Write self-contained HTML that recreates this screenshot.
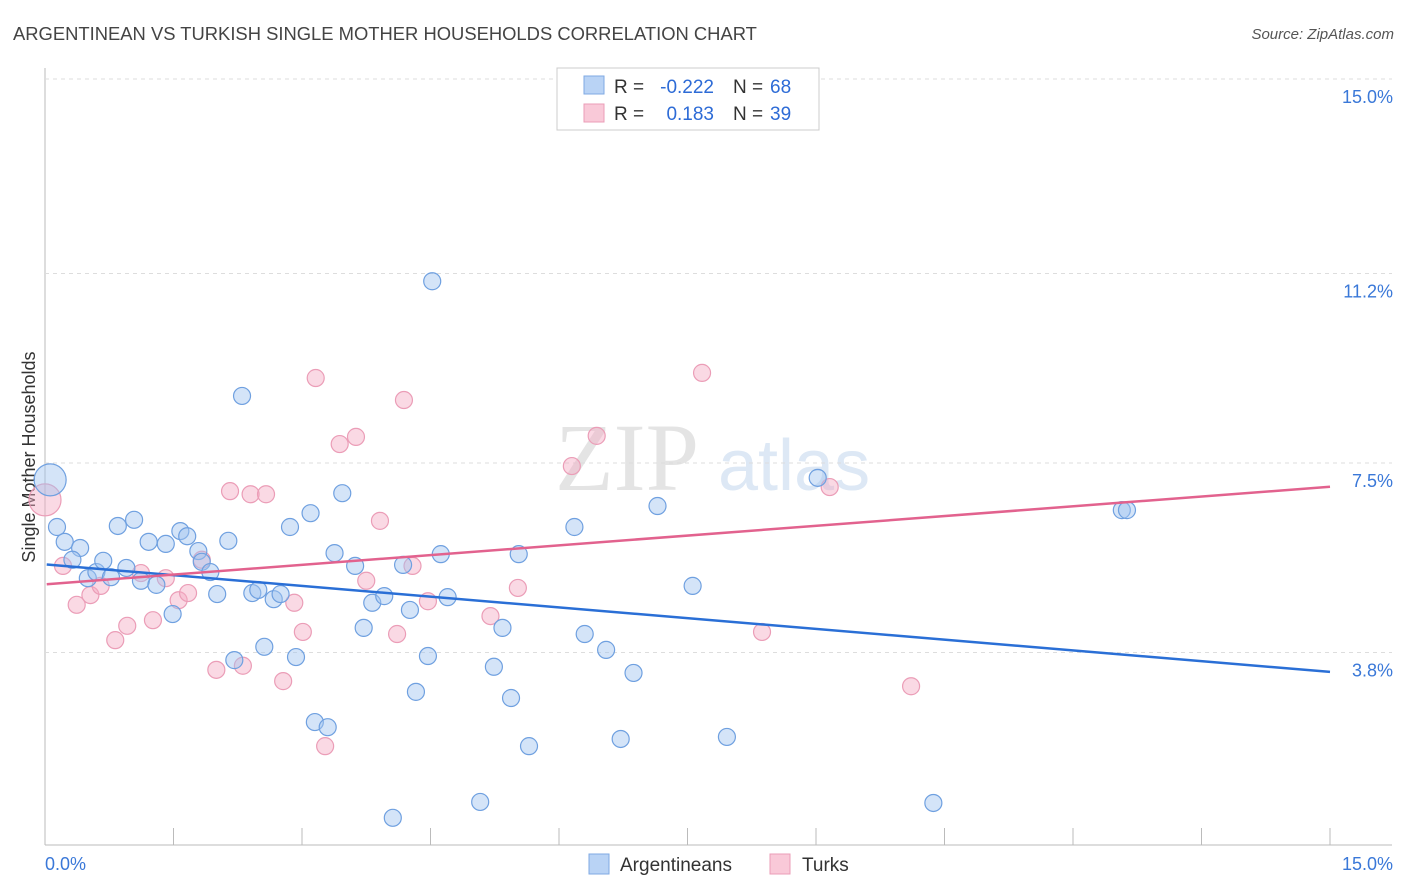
<!DOCTYPE html>
<html><head><meta charset="utf-8">
<style>
body{margin:0;background:#fff;font-family:"Liberation Sans",sans-serif;}
#wrap{position:relative;width:1406px;height:892px;overflow:hidden;}
</style></head>
<body>
<div id="wrap">
<svg id="svg" width="1406" height="892" xmlns="http://www.w3.org/2000/svg">
<text x="13" y="40" font-size="18.4" fill="#444">ARGENTINEAN VS TURKISH SINGLE MOTHER HOUSEHOLDS CORRELATION CHART</text>
<text x="1394" y="39" font-size="15" fill="#555" font-style="italic" text-anchor="end">Source: ZipAtlas.com</text>
<text x="35" y="457" font-size="18" fill="#333" text-anchor="middle" transform="rotate(-90 35 457)">Single Mother Households</text>
<text x="555" y="490" font-size="96" fill="#e4e4e4" font-family="Liberation Serif">ZIP</text>
<text x="718" y="490" font-size="72" fill="#dde8f5">atlas</text>
<g id="grid"></g><g id="pts"></g><g id="lines"></g>
<g>
<rect x="557" y="68" width="262" height="62" fill="#fff" stroke="#ccc"/>
<rect x="584" y="76" width="20" height="18" fill="#b9d3f5" stroke="#7fa9e3"/>
<rect x="584" y="104" width="20" height="18" fill="#f9c9d8" stroke="#eb9db7"/>
<text x="614" y="93" font-size="19" fill="#333">R =</text>
<text x="714" y="93" font-size="19" fill="#2d6bd6" text-anchor="end">-0.222</text>
<text x="733" y="93" font-size="19" fill="#333">N =</text>
<text x="770" y="93" font-size="19" fill="#2d6bd6">68</text>
<text x="614" y="120" font-size="19" fill="#333">R =</text>
<text x="714" y="120" font-size="19" fill="#2d6bd6" text-anchor="end">0.183</text>
<text x="733" y="120" font-size="19" fill="#333">N =</text>
<text x="770" y="120" font-size="19" fill="#2d6bd6">39</text>
</g>
<g>
<rect x="589" y="854" width="20" height="20" fill="#b9d3f5" stroke="#7fa9e3"/>
<text x="620" y="871" font-size="19" fill="#333">Argentineans</text>
<rect x="770" y="854" width="20" height="20" fill="#f9c9d8" stroke="#eb9db7"/>
<text x="802" y="871" font-size="19" fill="#333">Turks</text>
</g>
</svg>
</div>
<script>
const yTicks=[3.8,7.5,11.2,15.0];
const yTickLabels=["3.8%","7.5%","11.2%","15.0%"];
const xTickCount=10;
const blueX=[0.06,0.14,0.23,0.41,0.32,0.50,0.60,0.68,0.77,0.85,0.95,1.04,1.12,1.21,1.30,1.41,1.49,1.58,1.66,1.79,1.83,1.93,2.01,2.14,2.21,2.30,2.42,2.49,2.56,2.67,2.75,2.86,2.93,3.10,3.15,3.30,3.38,3.47,3.62,3.72,3.82,3.96,4.06,4.18,4.26,4.33,4.47,4.52,4.62,4.70,5.08,5.24,5.34,5.44,5.53,5.65,6.18,6.30,6.55,6.72,6.87,7.15,7.56,7.96,9.02,10.37,12.57,12.63];
const blueY=[7.17,6.25,5.96,5.84,5.61,5.25,5.37,5.59,5.27,6.27,5.45,6.39,5.20,5.96,5.12,5.92,4.55,6.17,6.07,5.78,5.57,5.37,4.94,5.98,3.65,8.81,4.96,5.02,3.91,4.84,4.94,6.25,3.71,6.52,2.44,2.34,5.74,6.91,5.49,4.28,4.77,4.90,0.57,5.51,4.63,3.03,3.73,11.05,5.72,4.88,0.88,3.52,4.28,2.91,5.72,1.97,6.25,4.16,3.85,2.11,3.40,6.66,5.10,2.15,7.21,0.86,6.58,6.58];
const pinkX=[0.0,0.21,0.37,0.53,0.65,0.82,0.96,1.12,1.26,1.41,1.56,1.67,1.83,2.00,2.16,2.31,2.40,2.58,2.78,2.91,3.01,3.16,3.27,3.44,3.63,3.75,3.91,4.11,4.19,4.29,4.47,5.20,5.52,6.15,6.44,7.67,8.37,9.16,10.11];
const pinkY=[6.78,5.49,4.73,4.92,5.10,4.04,4.32,5.35,4.43,5.25,4.82,4.96,5.61,3.46,6.95,3.54,6.89,6.89,3.24,4.77,4.20,9.16,1.97,7.87,8.01,5.20,6.37,4.16,8.73,5.49,4.80,4.51,5.06,7.44,8.03,9.26,4.20,7.03,3.14];
const blueTrend=[5.52,-0.140];
const pinkTrend=[5.13,0.127];
const NS="http://www.w3.org/2000/svg";
const xs=v=>45+v*(1330-45)/15;
const ys=v=>847-v*51.2;
function mk(tag,attrs,parent){const e=document.createElementNS(NS,tag);for(const k in attrs)e.setAttribute(k,attrs[k]);parent.appendChild(e);return e;}
const grid=document.getElementById('grid');
mk('line',{x1:45,y1:68,x2:45,y2:845,stroke:'#bbb'},grid);
mk('line',{x1:45,y1:845,x2:1392,y2:845,stroke:'#bbb'},grid);
yTicks.forEach((t,i)=>{
 const l=mk('line',{x1:45,x2:1392,y1:ys(t),y2:ys(t),stroke:'#ddd','stroke-dasharray':'4,4'},grid);
 
 
 const tx=mk('text',{x:1393,y:ys(t)+24,'font-size':18,fill:'#3a78d8','text-anchor':'end'},grid);
 tx.textContent=yTickLabels[i];
 
 
});
for(let i=1;i<=xTickCount;i++){
 const x=xs(i*15/xTickCount);
 const l=mk('line',{x1:x,x2:x,y1:828,y2:845,stroke:'#bbb'},grid);
 
 
}
const t0=mk('text',{x:45,y:870,'font-size':18,fill:'#3a78d8'},grid);t0.textContent="0.0%";


const t1=mk('text',{x:1393,y:870,'font-size':18,fill:'#3a78d8','text-anchor':'end'},grid);t1.textContent="15.0%";


const pts=document.getElementById('pts');
pinkX.forEach((x,i)=>{
 const c=mk('circle',{cx:xs(x),cy:ys(pinkY[i]),r:i===0?16:8.5,fill:'rgba(245,170,195,0.45)',stroke:'#eb9db7','stroke-width':1.2},pts);
 
 
});
blueX.forEach((x,i)=>{
 const c=mk('circle',{cx:xs(x),cy:ys(blueY[i]),r:i===0?16:8.5,fill:'rgba(160,195,240,0.45)',stroke:'#6fa0e0','stroke-width':1.2},pts);
 
 
});
const lines=document.getElementById('lines');
const bl=mk('line',{x1:xs(0.02),y1:ys(blueTrend[0]+blueTrend[1]*0.02),x2:xs(15),y2:ys(blueTrend[0]+blueTrend[1]*15),stroke:'#2a6fd6','stroke-width':2.5},lines);


const pl=mk('line',{x1:xs(0.02),y1:ys(pinkTrend[0]+pinkTrend[1]*0.02),x2:xs(15),y2:ys(pinkTrend[0]+pinkTrend[1]*15),stroke:'#e2628e','stroke-width':2.5},lines);


</script>
</body></html>
